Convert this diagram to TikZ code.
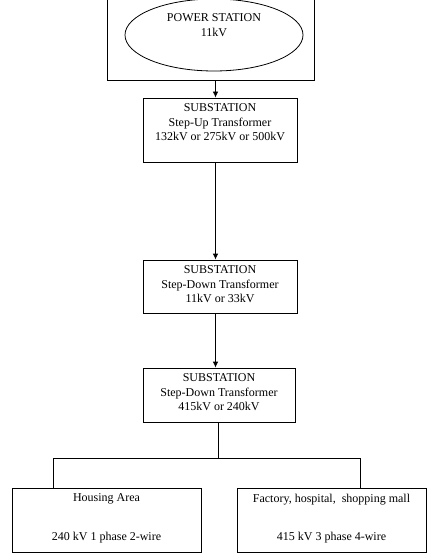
\documentclass[tikz,border=0pt]{standalone}
\usepackage{fontspec}
\setmainfont{Liberation Serif}
\usetikzlibrary{positioning,arrows.meta,shapes.geometric}

\begin{document}
\begin{tikzpicture}[x=1pt,y=-1pt,line width=0.8pt,
    box/.style={draw,minimum width=154pt,inner sep=0pt},
    txt/.style={align=center,inner sep=0pt,font=\fontsize{12}{14.5}\selectfont},
    feed/.style={-{Latex[length=6pt,width=5.5pt]}}]
  \useasboundingbox[fill=white] (0,0) rectangle (432,556);
  % power station
  \node[draw,minimum width=207pt,minimum height=100pt] (plant) at (210.5,30) {};
  \node[draw,ellipse,minimum width=178pt,minimum height=72pt,inner sep=0pt] (station) at (214,35) {};
  \node[txt,below=15pt of station.north] (stationtext) {POWER STATION\\11kV};
  % substations
  \node[box,minimum height=64pt] (sub1) at (220,130) {};
  \node[box,minimum height=53pt] (sub2) at (220,286.5) {};
  \node[box,minimum width=152pt,minimum height=54pt] (sub3) at (219,395) {};
  \node[txt,below=6pt of sub1.north] (sub1text) {SUBSTATION\\Step-Up Transformer\\132kV or 275kV or 500kV};
  \node[txt,below=6pt of sub2.north] (sub2text) {SUBSTATION\\Step-Down Transformer\\11kV or 33kV};
  \node[txt,below=6pt of sub3.north] (sub3text) {SUBSTATION\\Step-Down Transformer\\415kV or 240kV};
  % consumers
  \node[draw,minimum width=189pt,minimum height=64pt] (home) at (106.5,520) {};
  \node[draw,minimum width=189pt,minimum height=64pt] (works) at (331.5,520) {};
  \node[txt,below=6pt of home.north] (hometext) {Housing Area\\[24pt]240 kV 1 phase 2-wire};
  \node[txt,below=6pt of works.north] (workstext) {Factory, hospital,\ \ shopping mall\\[24pt]415 kV 3 phase 4-wire};
  % connectors
  \coordinate (spine) at (215.5,0);
  \foreach \a/\b in {plant/sub1,sub1/sub2,sub2/sub3}
    \draw[feed] (\a.south -| spine) -- (\b.north -| spine);
  \coordinate (bus) at (218,458);
  \coordinate (busl) at (53,458);
  \coordinate (busr) at (360,458);
  \draw (sub3.south -| bus) -- (bus);
  \draw (busl |- home.north) -- (busl) -- (busr) -- (busr |- works.north);
\end{tikzpicture}
\end{document}
